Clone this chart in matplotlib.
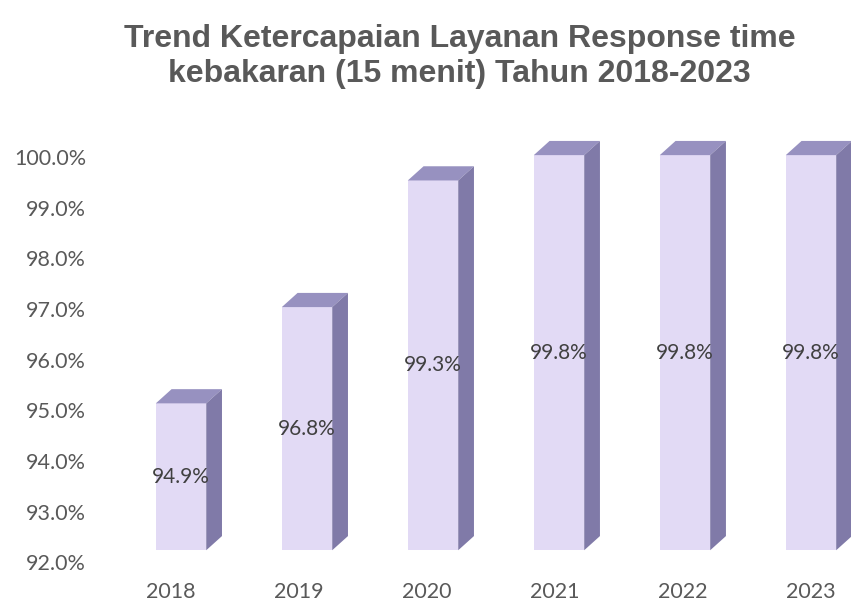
import numpy as np
import matplotlib.pyplot as plt
from matplotlib.patches import Polygon
from matplotlib.transforms import ScaledTranslation

years = ["2018", "2019", "2020", "2021", "2022", "2023"]
values = [94.9, 96.8, 99.3, 99.8, 99.8, 99.8]
yticks = [92.0, 93.0, 94.0, 95.0, 96.0, 97.0, 98.0, 99.0, 100.0]
base = 92.0

front_col = "#e2daf5"
top_col = "#9791c0"
side_col = "#807aa8"
text_col = "#595959"

dpi = 100
fig = plt.figure(figsize=(8.51, 6.02), dpi=dpi)
ax = fig.add_axes([0.1239, 0.045, 0.8735, 0.7447])
ax.set_xlim(-0.6, 5.3)
ax.set_ylim(91.75, 100.6)

# bars sit a little above the value axis, like the office 3d column look
lift = ScaledTranslation(0, 12 / dpi, fig.dpi_scale_trans)
tr = ax.transData + lift

w = 0.4     # front face width
dx = 0.125  # depth, x data units
dy = 0.28   # depth, y data units

for i, v in enumerate(values):
    x0, x1 = i - w / 2, i + w / 2
    front = Polygon([(x0, base), (x1, base), (x1, v), (x0, v)],
                    closed=True, facecolor=front_col, edgecolor="none",
                    transform=tr, clip_on=False, zorder=3)
    top = Polygon([(x0, v), (x1, v), (x1 + dx, v + dy), (x0 + dx, v + dy)],
                  closed=True, facecolor=top_col, edgecolor="none",
                  transform=tr, clip_on=False, zorder=3)
    side = Polygon([(x1, base), (x1 + dx, base + dy), (x1 + dx, v + dy), (x1, v)],
                   closed=True, facecolor=side_col, edgecolor="none",
                   transform=tr, clip_on=False, zorder=3)
    for p in (front, top, side):
        ax.add_patch(p)
    ax.annotate(f"{v:.1f}%", xy=(i, (base + v) / 2), xytext=(0, 12 * 72 / dpi),
                textcoords="offset points", ha="center", va="center",
                fontsize=15, color="#404040", family="Lato", zorder=4)

ax.set_xticks(range(len(years)))
ax.set_xticklabels(years)
ax.set_yticks(yticks)
ax.set_yticklabels([f"{t:.1f}%" for t in yticks])
ax.tick_params(axis="both", length=0, labelsize=15.5, labelcolor=text_col)
ax.tick_params(axis="y", pad=14)
ax.tick_params(axis="x", pad=5)
for lab in ax.get_xticklabels() + ax.get_yticklabels():
    lab.set_family("Lato")
# year labels sit slightly left of the bar fronts
for i, lab in enumerate(ax.get_xticklabels()):
    shift = ScaledTranslation(-(10 - 2 * i) / dpi, 0, fig.dpi_scale_trans)
    lab.set_transform(lab.get_transform() + shift)
for s in ax.spines.values():
    s.set_visible(False)
ax.patch.set_alpha(0)

fig.text(0.54, 0.906, "Trend Ketercapaian Layanan Response time\nkebakaran (15 menit) Tahun 2018-2023",
         ha="center", va="center", fontsize=23, fontweight="bold",
         color=text_col, family="Liberation Sans", linespacing=1.22)

plt.savefig("out.png", dpi=dpi)
